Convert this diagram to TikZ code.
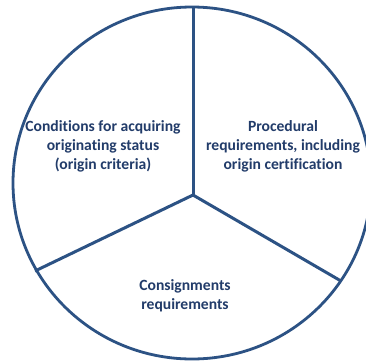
\documentclass[tikz,border=0pt]{standalone}
\usepackage{fontspec}
\setmainfont{Carlito}[Ligatures=NoCommon]
\definecolor{rimblue}{RGB}{44,82,132}
\definecolor{labelblue}{RGB}{34,60,106}
\tikzset{
  rim/.style={draw=rimblue, line width=2.8pt},
  spoke/.style={draw=rimblue, line width=3pt, line cap=butt},
  sectorlabel/.style={text=labelblue, font=\bfseries\fontsize{15.6pt}{19pt}\selectfont, align=center, inner sep=0pt}
}
\begin{document}
\begin{tikzpicture}[x=1pt, y=-1pt]
  \useasboundingbox (0,0) rectangle (366,362);
  \clip (0,0) rectangle (366,362);
  \fill[white] (0,0) rectangle (366,362);
  % outer disc
  \coordinate (centre) at (192,183);
  \draw[rim] (centre) ellipse [x radius=179, y radius=176];
  % hub and the three spoke ends on the rim
  \coordinate (hub) at (193,195);
  \coordinate (top) at (193,7);
  \coordinate (lower left) at (35,271);
  \coordinate (lower right) at (341,281);
  \draw[spoke] (hub) -- (top);
  \draw[spoke] (hub) -- (lower left);
  \draw[spoke] (hub) -- (lower right);
  % sector labels
  \node[sectorlabel] (origin) at (103,146) {Conditions for acquiring\\originating status\\(origin criteria)};
  \node[sectorlabel] (procedure) at (283,146) {Procedural\\requirements, including\\origin certification};
  \node[sectorlabel] (consign) at (185,296) {Consignments\\requirements};
\end{tikzpicture}
\end{document}
